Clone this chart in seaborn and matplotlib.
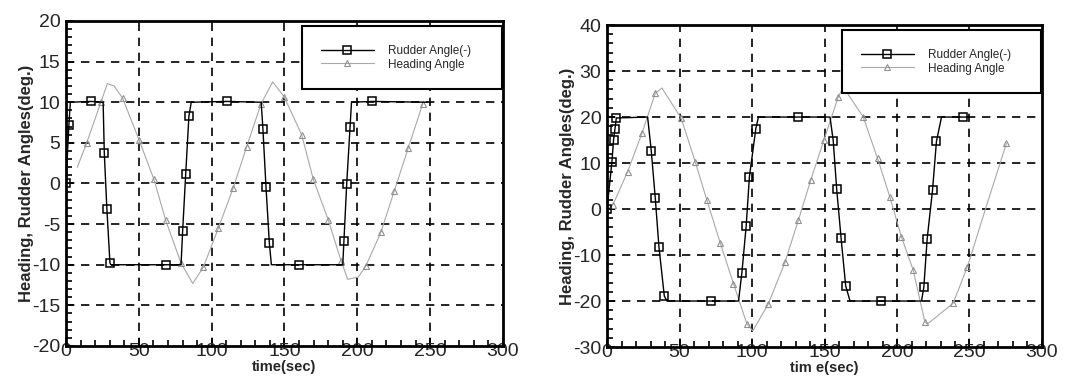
import matplotlib
matplotlib.use("Agg")
import matplotlib.pyplot as plt
from matplotlib.ticker import MultipleLocator
import numpy as np
import seaborn as sns

# ---- left panel (rudder +-10 deg) ----
l_rud_t = [0, 2, 3, 17, 25.5, 26.3, 28.1, 30.2, 30.8, 69, 79, 80.1, 82.2, 84.4, 86,
           110.7, 134, 135.2, 137.3, 139.6, 141, 160.2, 190, 190.8, 192.7, 195, 196, 210.3, 248]
l_rud_v = [0, 7.2, 10, 10.1, 10, 3.8, -3.2, -9.8, -10, -10, -10, -5.8, 1.2, 8.3, 10,
           10.1, 10, 6.7, -0.4, -7.3, -10, -10, -10, -7.1, -0.1, 6.9, 10, 10.1, 10]
l_rud_mark = [0, 1, 3, 5, 6, 7, 9, 11, 12, 13, 15, 17, 18, 19, 21, 23, 24, 25, 27]

l_head_t = [7.8, 14.2, 24, 28.4, 33, 38.9, 50.3, 60.4, 68.4, 79, 87, 94.3, 104.6, 114.9,
            124, 133.9, 141.9, 149.7, 161.8, 169.8, 180.1, 188.8, 193.4, 200.7, 205.7,
            216.2, 225.4, 235, 244.9]
l_head_v = [2, 5, 10, 12.3, 12, 10.5, 5.3, 0.5, -4.5, -9.8, -12.3, -10.3, -5.5, -0.5,
            4.5, 9.8, 12.5, 10.7, 6, 0.5, -4.5, -9.5, -11.8, -11.5, -10.2,
            -6, -0.9, 4.4, 9.8]
l_head_mark = [1, 2, 5, 6, 7, 8, 9, 11, 12, 13, 14, 15, 17, 18, 19, 20, 21, 24, 25, 26, 27, 28]

# ---- right panel (rudder +-20 deg) ----
r_rud_t = [0, 3.4, 4.5, 5.5, 6.4, 28, 30.5, 33.3, 35.8, 39.5, 41.3, 71.8, 90.7, 93, 96, 98.2,
           102.6, 104.4, 132, 153.8, 156, 158.4, 161.4, 164.6, 167.6, 188.7, 216.9,
           218.5, 220.8, 224.5, 227.2, 230.7, 245.8, 248]
r_rud_v = [0, 10.3, 15, 17.5, 19.8, 20, 12.7, 2.3, -8.2, -18.9, -20, -20, -20, -13.9, -3.6, 7.0,
           17.4, 20, 20, 20, 14.9, 4.3, -6.2, -16.7, -20, -20, -20,
           -17, -6.5, 4.1, 14.7, 20, 20, 20]
r_rud_mark = [0, 1, 2, 3, 4, 6, 7, 8, 9, 11, 13, 14, 15, 16, 18, 20, 21, 22, 23, 25,
              27, 28, 29, 30, 32]

r_head_t = [0, 4, 14.2, 24.1, 33.3, 37.9, 51.2, 60.8, 68.9, 78, 87.2, 96.4, 100.5, 111.3,
            122.8, 132, 140.5, 149.6, 159.5, 163, 176.7, 186.6, 195, 203, 211.2, 219.2,
            221, 238.7, 248.6, 262, 275.5]
r_head_v = [0, 0.9, 8.1, 16.5, 25.2, 26.3, 19.7, 10.3, 1.9, -7.3, -16.2, -24.9, -26.5, -20.6,
            -11.5, -2.4, 6.3, 15, 24.4, 26.5, 20, 11, 2.7, -6, -13.3, -24.5,
            -25, -20.5, -12.5, 1, 14.3]
r_head_mark = [1, 2, 3, 4, 6, 7, 8, 9, 10, 11, 13, 14, 15, 16, 17, 18, 20, 21, 22, 23, 24,
               25, 27, 28, 30]

sns.set_style("white")
plt.rcParams["font.family"] = ["Liberation Sans", "DejaVu Sans"]
plt.rcParams["axes.unicode_minus"] = False

fig = plt.figure(figsize=(10.78, 3.81), dpi=100)
ax1 = fig.add_axes([0.0612, 0.0919, 0.4054, 0.853])
ax2 = fig.add_axes([0.5631, 0.0892, 0.4035, 0.845])

panels = [
    (ax1, l_rud_t, l_rud_v, l_rud_mark, l_head_t, l_head_v, l_head_mark,
     (-20, 20), 5, 1, "time(sec)"),
    (ax2, r_rud_t, r_rud_v, r_rud_mark, r_head_t, r_head_v, r_head_mark,
     (-30, 40), 10, 2, "tim e(sec)"),
]

for ax, rt, rv, rm, ht, hv, hm, ylim, ymaj, ymin, xlab in panels:
    sns.lineplot(x=ht, y=hv, ax=ax, sort=False, color="#a8a8a8", lw=0.8,
                 marker="^", markersize=5, markerfacecolor="none",
                 markeredgecolor="#909090", markeredgewidth=0.8, markevery=hm,
                 label="Heading Angle")
    sns.lineplot(x=rt, y=rv, ax=ax, sort=False, color="black", lw=1.0,
                 marker="s", markersize=6, markerfacecolor="none",
                 markeredgecolor="black", markeredgewidth=1.1, markevery=rm,
                 label="Rudder Angle(-)")
    ax.set_xlim(0, 300)
    ax.set_ylim(*ylim)
    ax.xaxis.set_major_locator(MultipleLocator(50))
    ax.xaxis.set_minor_locator(MultipleLocator(10))
    ax.yaxis.set_major_locator(MultipleLocator(ymaj))
    ax.yaxis.set_minor_locator(MultipleLocator(ymin))
    for x in range(50, 300, 50):
        ax.axvline(x, color="black", lw=1.2, ls=(0, (5, 4)), zorder=0)
    for y in np.arange(ylim[0] + ymaj, ylim[1], ymaj):
        ax.axhline(y, color="black", lw=1.2, ls=(0, (5, 4)), zorder=0)
    ax.tick_params(axis="both", which="both", direction="in", top=False, right=False,
                   left=True, bottom=True, color="black", width=1.2)
    ax.tick_params(axis="both", which="major", length=6, labelsize=14)
    ax.tick_params(axis="both", which="minor", length=4)
    ax.tick_params(axis="x", which="major", pad=-2)
    ax.tick_params(axis="y", which="major", pad=4)
    for s in ax.spines.values():
        s.set_color("black")
        s.set_linewidth(2)
    ax.set_xlabel(xlab, fontsize=10.5, fontweight="bold", labelpad=0)
    ax.set_ylabel("Heading, Rudder Angles(deg.)", fontsize=12, fontweight="bold", labelpad=-1)
    handles, labels = ax.get_legend_handles_labels()
    leg = ax.legend(handles[::-1], labels[::-1], loc="upper left",
                    bbox_to_anchor=(0.54, 0.985, 0.458, 0.0), mode="expand",
                    fontsize=8.5, frameon=True, fancybox=False, borderpad=1.6,
                    handlelength=4.5, labelspacing=0.15, borderaxespad=0,
                    handletextpad=1.2)
    leg.get_frame().set_edgecolor("black")
    leg.get_frame().set_linewidth(1.5)
    leg.get_frame().set_alpha(1)

fig.savefig("out.png", dpi=100)
